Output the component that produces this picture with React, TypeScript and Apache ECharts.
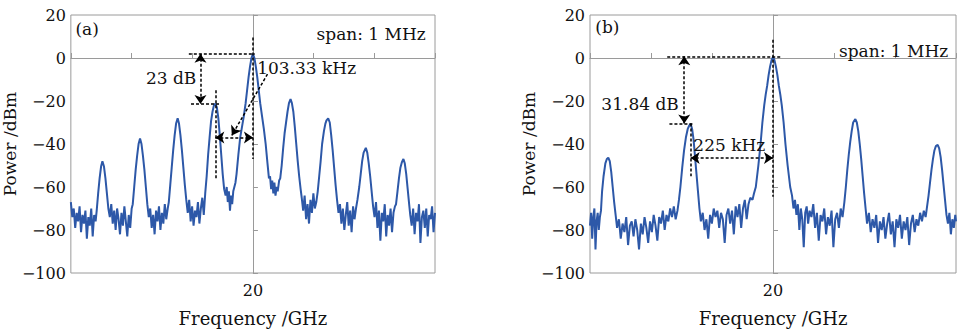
import React, { useEffect, useRef } from "react";
import * as echarts from "echarts";

// Frequency offset from 20 GHz centre (kHz), power (dBm)
const spectrumA: [number, number][] = [
  [-500, -67], [-496, -74], [-492, -70], [-488, -79], [-484, -72], [-480, -76], [-476, -69], [-472, -81],
  [-468, -73], [-464, -77], [-460, -71], [-456, -84], [-452, -74], [-448, -78], [-444, -70], [-440, -83],
  [-436, -73], [-432, -76], [-429, -71], [-425, -63], [-421, -56], [-417, -50.5], [-413.3, -48], [-409, -50.5],
  [-405, -56], [-401, -63], [-397, -70], [-393, -74], [-389, -68], [-385, -77], [-381, -71], [-377, -80],
  [-373, -70], [-369, -75], [-365, -82], [-361, -72], [-357, -78], [-353, -69], [-349, -76], [-345, -83],
  [-341, -73], [-337, -79], [-333, -70], [-330, -68], [-326, -60], [-322, -52], [-318, -45.5], [-314, -40],
  [-310, -37.4], [-306, -40], [-302, -45.5], [-298, -52], [-294, -60], [-290, -68], [-286, -74], [-282, -70],
  [-278, -79], [-274, -73], [-270, -82], [-266, -71], [-262, -76], [-258, -69], [-254, -80], [-250, -72],
  [-246, -77], [-242, -68], [-238, -75], [-234, -70], [-231, -67], [-227, -59], [-223, -51], [-219, -43],
  [-215, -36], [-211, -30.5], [-206.7, -28], [-203, -30.5], [-199, -36], [-195, -43], [-191, -51], [-187, -59],
  [-183, -66], [-179, -72], [-175, -66], [-171, -76], [-167, -69], [-163, -78], [-159, -71], [-155, -74],
  [-151, -67], [-147, -77], [-143, -70], [-139, -65], [-135, -73], [-131, -63], [-127, -55], [-123, -45],
  [-119, -37], [-115, -29.5], [-111, -25], [-107, -22], [-103.3, -21.2], [-99, -23], [-95, -28], [-91, -36],
  [-87, -45], [-83, -54], [-79, -61], [-75, -64], [-72, -60], [-69, -67], [-66, -62], [-63, -71],
  [-60, -64], [-57, -68], [-54, -62], [-51, -60], [-48, -58], [-45, -54], [-40, -45], [-35, -37],
  [-30, -32], [-25, -27], [-20, -21], [-16, -15], [-12, -9], [-8, -4], [-4, 0], [0, 2],
  [4, 0], [8, -4], [12, -9], [16, -15], [20, -21], [25, -27], [30, -33], [35, -40],
  [40, -49], [44, -56], [47, -55], [50, -61], [53, -57], [56, -63], [59, -58], [62, -64],
  [65, -60], [68, -62], [72, -57], [75, -56], [79, -50], [83, -42], [87, -35], [91, -30],
  [95, -25], [99, -21], [103.3, -19.1], [107, -21], [111, -25], [115, -32], [119, -40], [123, -48],
  [127, -55], [131, -61], [134, -65], [138, -71], [142, -64], [146, -75], [150, -68], [154, -77],
  [158, -66], [162, -72], [166, -63], [170, -70], [174, -67], [178, -62], [182, -55], [186, -48],
  [190, -40], [195, -34], [199, -30.5], [202, -29], [206.7, -28.1], [211, -30], [215, -36], [219, -43],
  [223, -51], [227, -59], [231, -66], [235, -72], [239, -68], [243, -77], [247, -70], [251, -80],
  [255, -73], [259, -67], [263, -78], [267, -71], [271, -81], [275, -69], [279, -75], [283, -70],
  [287, -66], [292, -60], [296, -54], [300, -48], [304, -44], [310, -41.8], [314, -44], [318, -49],
  [322, -55], [326, -62], [330, -69], [334, -74], [338, -67], [342, -79], [346, -71], [350, -85],
  [354, -72], [358, -76], [362, -68], [366, -83], [370, -73], [374, -78], [378, -70], [382, -81],
  [386, -72], [390, -69], [393, -68], [397, -62], [401, -56], [405, -51], [409, -48.5], [413.3, -47],
  [417, -49], [421, -54], [425, -61], [429, -68], [432, -73], [436, -78], [440, -70], [444, -82],
  [448, -72], [452, -76], [456, -68], [460, -86], [464, -74], [468, -71], [472, -79], [476, -70],
  [480, -83], [484, -73], [488, -75], [492, -69], [496, -81], [500, -72],
];

const spectrumB: [number, number][] = [
  [-500, -78], [-497, -72], [-494, -84], [-491, -74], [-488, -70], [-485, -89], [-482, -76], [-479, -72],
  [-476, -80], [-473, -74], [-470, -71], [-467, -62], [-463, -55], [-458, -49], [-454, -47], [-450, -46.4],
  [-446, -48], [-442, -53], [-438, -60], [-434, -67], [-430, -73], [-426, -79], [-421, -75], [-416, -84],
  [-411, -77], [-406, -81], [-401, -74], [-396, -87], [-391, -78], [-386, -76], [-381, -83], [-376, -75],
  [-371, -80], [-366, -89], [-361, -77], [-356, -82], [-351, -74], [-346, -79], [-341, -86], [-336, -76],
  [-331, -81], [-326, -73], [-321, -78], [-316, -85], [-311, -74], [-306, -77], [-301, -71], [-296, -80],
  [-291, -73], [-286, -76], [-281, -70], [-276, -74], [-271, -69], [-266, -75], [-261, -71], [-257, -66],
  [-253, -60], [-248, -51], [-243, -43], [-238, -37], [-233, -33], [-229, -31.5], [-225, -30.6], [-221, -33],
  [-217, -38], [-213, -46], [-209, -54], [-205, -62], [-201, -70], [-197, -76], [-192, -72], [-187, -80],
  [-182, -75], [-177, -84], [-172, -73], [-167, -77], [-162, -70], [-157, -74], [-152, -71], [-147, -79],
  [-142, -72], [-137, -75], [-132, -86], [-127, -73], [-122, -70], [-117, -77], [-112, -71], [-107, -82],
  [-102, -69], [-97, -74], [-92, -68], [-87, -79], [-82, -70], [-77, -66], [-72, -75], [-67, -68],
  [-62, -65], [-56, -66], [-52, -63], [-47, -60], [-40, -50], [-34, -40], [-29, -30], [-24, -22],
  [-20, -17], [-16, -13], [-12, -8], [-8, -4], [-4, -1], [0, 0.5], [4, -1], [8, -4],
  [12, -8], [16, -13], [20, -17], [24, -22], [29, -30], [34, -40], [40, -50], [47, -60],
  [52, -64], [56, -70], [60, -66], [64, -73], [68, -68], [72, -80], [76, -70], [80, -75],
  [84, -88], [88, -72], [92, -69], [96, -77], [100, -71], [105, -74], [110, -68], [115, -79],
  [120, -72], [125, -85], [130, -73], [135, -76], [140, -70], [145, -82], [150, -74], [155, -78],
  [160, -71], [165, -88], [170, -75], [175, -72], [180, -79], [185, -70], [190, -74], [195, -67],
  [199, -60], [203, -52], [207, -45], [211, -39], [215, -34], [219, -30], [225, -28.4], [229, -30],
  [233, -34], [237, -40], [241, -47], [245, -55], [249, -63], [253, -70], [257, -77], [262, -72],
  [267, -81], [272, -75], [277, -79], [282, -73], [287, -86], [292, -76], [297, -80], [302, -74],
  [307, -84], [312, -77], [317, -72], [322, -82], [327, -76], [332, -88], [337, -75], [342, -79],
  [347, -73], [352, -84], [357, -76], [362, -80], [367, -74], [372, -87], [377, -77], [382, -73],
  [387, -81], [392, -75], [397, -78], [402, -72], [407, -76], [412, -71], [417, -74], [421, -69],
  [425, -64], [429, -58], [433, -52], [437, -47], [441, -43], [445, -41], [450, -40.4], [454, -42],
  [458, -46], [462, -52], [466, -59], [470, -66], [474, -73], [478, -77], [482, -72], [486, -82],
  [490, -75], [494, -79], [498, -73], [500, -76],
];

const yTicks = [20, 0, -20, -40, -60, -80, -100];
const centreLabel = "20";
const xName = "Frequency /GHz";
const yName = "Power /dBm";
const panelLabels = ["(a)", "(b)"];
const spanText = "span: 1 MHz";
const dbTexts = ["23 dB", "31.84 dB"];
const khzTexts = ["103.33 kHz", "225 kHz"];

const FONT = "DejaVu Serif";
const BLUE = "#2d58a8";
const FRAME = "#9a9a9a";

const dash = { color: "#000", width: 1.5, type: [3, 2] as number[] };

function seg(a: [number, number], b: [number, number], s0 = "none", s1 = "none") {
  return [
    { coord: a, symbol: s0 },
    { coord: b, symbol: s1 },
  ];
}

function txt(coord: [number, number], text: string, align: string) {
  return {
    coord,
    symbol: "circle",
    symbolSize: 1,
    itemStyle: { color: "rgba(0,0,0,0)" },
    label: {
      show: true,
      formatter: text,
      position: [0, 0],
      align,
      verticalAlign: "middle",
      fontFamily: FONT,
      fontSize: 17,
      color: "#111",
    },
  };
}

export default function App() {
  const ref = useRef<HTMLDivElement>(null);
  useEffect(() => {
    if (!ref.current) return;
    const chart = echarts.init(ref.current, undefined, { renderer: "svg" });
    const xAxisBase = (gridIndex: number) => ({
      type: "value" as const,
      gridIndex,
      min: -500,
      max: 500,
      interval: 1000 / 6,
      name: xName,
      nameLocation: "middle" as const,
      nameGap: 36,
      nameTextStyle: { fontFamily: FONT, fontSize: 18, color: "#111" },
      axisLine: { show: true, lineStyle: { color: FRAME, width: 1 } },
      axisTick: { show: true, inside: true, length: 5, lineStyle: { color: FRAME } },
      splitLine: { show: false },
      axisLabel: {
        fontFamily: FONT,
        fontSize: 16,
        color: "#111",
        margin: 9,
        formatter: (v: number) => (Math.abs(v) < 1 ? centreLabel : ""),
      },
    });
    const yAxisBase = (gridIndex: number) => ({
      type: "value" as const,
      gridIndex,
      min: yTicks[yTicks.length - 1],
      max: yTicks[0],
      interval: 20,
      name: yName,
      nameLocation: "middle" as const,
      nameGap: 42,
      nameTextStyle: { fontFamily: FONT, fontSize: 17, color: "#111" },
      axisLine: { show: true, lineStyle: { color: FRAME, width: 1 } },
      axisTick: { show: true, inside: true, length: 5, lineStyle: { color: FRAME } },
      splitLine: { show: false },
      axisLabel: {
        fontFamily: FONT,
        fontSize: 16,
        color: "#111",
        margin: 5,
        formatter: (v: number) => (v < 0 ? "\u2212" + Math.abs(v) : String(v)),
      },
    });

    const markLineBase = {
      silent: true,
      symbolSize: [9, 9],
      label: { show: false },
      lineStyle: dash,
      emphasis: { disabled: true },
    };

    chart.setOption({
      animation: false,
      backgroundColor: "#fff",
      grid: [
        { left: 65, top: 15, width: 370, height: 268, show: true, borderColor: FRAME, borderWidth: 1 },
        { left: 590, top: 15, width: 368, height: 268, show: true, borderColor: FRAME, borderWidth: 1 },
      ],
      xAxis: [xAxisBase(0), xAxisBase(1)],
      yAxis: [yAxisBase(0), yAxisBase(1)],
      series: [
        {
          type: "line",
          xAxisIndex: 0,
          yAxisIndex: 0,
          data: spectrumA,
          showSymbol: false,
          lineStyle: { color: BLUE, width: 2 },
          itemStyle: { color: BLUE },
          markLine: {
            ...markLineBase,
            data: [
              seg([-176, 2], [5, 2]),
              seg([-170, -21.4], [-89, -21.4]),
              seg([0, 9.5], [0, -47]),
              seg([-103.3, -15], [-103.3, -56.5]),
              seg([-144, 2], [-144, -21.4], "arrow", "arrow"),
              seg([-103.3, -37], [0, -37], "arrow", "arrow"),
              seg([40, -7.5], [-58, -36], "none", "arrow"),
            ],
          },
          markPoint: {
            silent: true,
            data: [
              txt([-486, 13.3], panelLabels[0], "left"),
              txt([476, 11], spanText, "right"),
              txt([-154, -9.6], dbTexts[0], "right"),
              txt([13, -4.7], khzTexts[0], "left"),
            ],
          },
        },
        {
          type: "line",
          xAxisIndex: 1,
          yAxisIndex: 1,
          data: spectrumB,
          showSymbol: false,
          lineStyle: { color: BLUE, width: 2 },
          itemStyle: { color: BLUE },
          markLine: {
            ...markLineBase,
            data: [
              seg([-289, 0.8], [20, 0.8]),
              seg([-283, -30.5], [-215, -30.5]),
              seg([0, 8.5], [0, -64.5]),
              seg([-225, -30.5], [-225, -55]),
              seg([-242.5, 0.8], [-242.5, -30.5], "arrow", "arrow"),
              seg([-225, -46.5], [0, -46.5], "arrow", "arrow"),
            ],
          },
          markPoint: {
            silent: true,
            data: [
              txt([-484, 14.2], panelLabels[1], "left"),
              txt([480, 2.8], spanText, "right"),
              txt([-256, -21.4], dbTexts[1], "right"),
              txt([-118, -40.5], khzTexts[1], "center"),
            ],
          },
        },
      ],
    });
    return () => chart.dispose();
  }, []);
  return (
    <div
      ref={ref}
      style={{ position: "fixed", left: 0, top: 0, width: 959, height: 332, background: "#fff" }}
    />
  );
}
